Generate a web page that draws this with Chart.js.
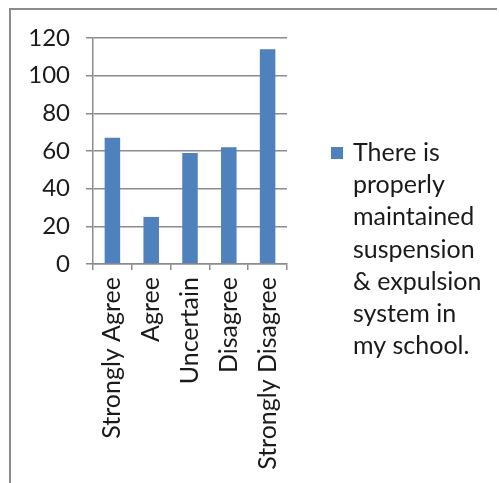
<!DOCTYPE html>
<html lang="en">
<head>
  <meta charset="UTF-8">
  <title>Suspension &amp; Expulsion System</title>
  <style>
    body {
      margin: 0;
      background: #ffffff;
    }
    #chartBox {
      width: 499px;
      height: 483px;
    }
  </style>
</head>
<body>

<div id="chartBox">
  <canvas id="responseChart" width="499" height="483"></canvas>
</div>

<script src="https://cdn.jsdelivr.net/npm/chart.js"></script>
<script>
  // Survey responses
  const categories = ['Strongly Agree', 'Agree', 'Uncertain', 'Disagree', 'Strongly Disagree'];
  const responses = [67, 25, 59, 62, 114];
  const seriesLabel = 'There is properly maintained suspension & expulsion system in my school.';
  const legendLines = ['There is', 'properly', 'maintained', 'suspension', '& expulsion', 'system in', 'my school.'];
  const yTicks = [0, 20, 40, 60, 80, 100, 120];

  const barColor = '#4f81bd';
  const lineColor = '#8c8c8c';
  const textColor = '#1a1a1a';
  const fontFamily = 'Lato, Carlito, Calibri, sans-serif';

  // outer frame (top and left edges only)
  const framePlugin = {
    id: 'frame',
    beforeDraw(chart) {
      const ctx = chart.ctx;
      ctx.save();
      ctx.fillStyle = '#ffffff';
      ctx.fillRect(0, 0, chart.width, chart.height);
      ctx.strokeStyle = lineColor;
      ctx.lineWidth = 2;
      ctx.beginPath();
      ctx.moveTo(10, chart.height);
      ctx.lineTo(10, 9);
      ctx.lineTo(497, 9);
      ctx.stroke();
      ctx.restore();
    }
  };

  // legend on the right, text wrapped over several lines
  const sideLegend = {
    id: 'sideLegend',
    afterDraw(chart) {
      const ctx = chart.ctx;
      ctx.save();
      ctx.fillStyle = chart.data.datasets[0].backgroundColor;
      ctx.fillRect(331, 147, 12, 12);
      ctx.fillStyle = textColor;
      ctx.font = '25px ' + fontFamily;
      ctx.textBaseline = 'middle';
      legendLines.forEach((line, i) => {
        ctx.fillText(line, 353, 153 + i * 32.2);
      });
      ctx.restore();
    }
  };

  function loadChart() {
    const ctx = document.getElementById('responseChart').getContext('2d');
    new Chart(ctx, {
      type: 'bar',
      data: {
        labels: categories,
        datasets: [{
          label: seriesLabel,
          data: responses,
          backgroundColor: barColor,
          categoryPercentage: 1,
          barPercentage: 0.4
        }]
      },
      options: {
        responsive: false,
        animation: false,
        layout: {
          padding: { top: 38, left: 0, right: 212, bottom: 0 }
        },
        plugins: {
          legend: { display: false },
          tooltip: { enabled: false }
        },
        scales: {
          x: {
            grid: {
              display: true,
              drawOnChartArea: false,
              offset: true,
              color: lineColor,
              lineWidth: 1.5,
              tickLength: 6
            },
            border: { color: lineColor, width: 1.5 },
            ticks: {
              color: textColor,
              font: { family: fontFamily, size: 25 },
              maxRotation: 90,
              minRotation: 90,
              padding: 7,
              autoSkip: false
            },
            afterFit(scale) {
              scale.height = 219;
            }
          },
          y: {
            min: 0,
            max: 120,
            afterBuildTicks(scale) {
              scale.ticks = yTicks.map(v => ({ value: v }));
            },
            grid: {
              color: lineColor,
              lineWidth: 1.5,
              tickLength: 7
            },
            border: { color: lineColor, width: 1.5 },
            ticks: {
              color: textColor,
              font: { family: fontFamily, size: 24 },
              padding: 16
            },
            afterFit(scale) {
              scale.width = 93;
            }
          }
        }
      },
      plugins: [framePlugin, sideLegend]
    });
  }

  window.onload = loadChart;
</script>

</body>
</html>
